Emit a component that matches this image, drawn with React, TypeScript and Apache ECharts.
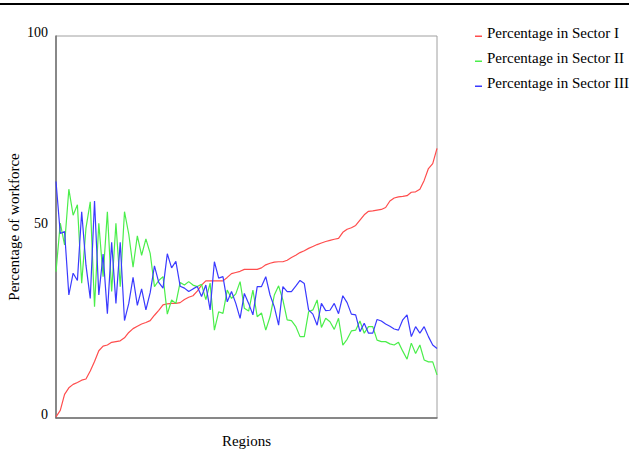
import React, { useEffect, useRef } from "react";
import * as echarts from "echarts";

const regions: string[] = Array.from({ length: 90 }, (_, i) => `Region ${i + 1}`);

const sectorI = [
  0.3, 2.0, 6.2, 7.9, 8.8, 9.3, 9.9, 10.2, 12.3, 14.8,
  17.6, 18.8, 19.1, 19.8, 20.0, 20.2, 21.0, 22.4, 23.4, 24.0,
  24.6, 25.0, 25.5, 26.9, 28.2, 29.6, 29.9, 30.0, 30.0, 30.2,
  31.0, 31.6, 32.0, 33.2, 34.8, 35.9, 35.9, 35.9, 35.9, 35.9,
  36.8, 37.8, 38.1, 38.4, 38.9, 38.9, 38.9, 38.9, 39.3, 40.1,
  40.5, 40.8, 40.9, 40.9, 41.3, 42.0, 42.6, 43.3, 43.8, 44.4,
  44.9, 45.4, 45.8, 46.2, 46.5, 46.8, 47.0, 48.6, 49.4, 49.8,
  50.4, 51.8, 53.2, 54.1, 54.2, 54.4, 54.6, 55.1, 56.8, 57.6,
  57.9, 58.0, 58.2, 59.1, 59.2, 59.9, 62.2, 65.3, 66.6, 70.6,
];

const sectorII = [
  38.3, 51.0, 45.3, 59.9, 53.1, 55.8, 35.3, 49.7, 56.6, 29.1,
  51.0, 37.0, 54.0, 33.1, 51.0, 34.4, 54.0, 48.1, 39.5, 47.7,
  42.6, 46.9, 43.1, 34.4, 36.0, 37.0, 27.2, 30.9, 30.0, 35.5,
  34.8, 35.7, 34.8, 34.4, 35.0, 31.0, 35.3, 23.0, 27.8, 27.4,
  33.5, 31.3, 32.5, 35.7, 28.7, 28.0, 33.5, 26.5, 27.5, 23.0,
  26.5, 32.2, 34.6, 30.9, 25.7, 25.5, 24.0, 21.3, 21.3, 27.8,
  28.3, 30.9, 23.7, 26.1, 25.2, 23.2, 26.1, 19.1, 20.6, 22.8,
  23.0, 25.4, 22.2, 23.9, 23.9, 20.4, 20.0, 20.0, 19.4, 19.1,
  19.8, 17.5, 15.4, 19.6, 16.9, 19.1, 15.2, 14.7, 14.7, 11.3,
];

const sectorIII = [
  61.9, 48.3, 48.8, 32.2, 37.9, 36.0, 54.0, 40.0, 31.3, 56.8,
  32.2, 42.9, 27.3, 46.0, 30.0, 46.0, 25.5, 30.0, 36.8, 29.5,
  33.8, 28.3, 32.8, 39.8, 35.5, 34.0, 43.0, 39.3, 41.0, 34.5,
  34.0, 33.1, 33.8, 34.4, 31.8, 34.8, 28.3, 40.9, 36.6, 37.0,
  30.4, 33.1, 30.0, 26.1, 32.6, 30.0, 27.0, 34.4, 34.4, 37.0,
  32.2, 29.1, 24.3, 34.4, 33.1, 33.1, 34.5, 36.0, 35.2, 28.3,
  27.2, 24.3, 30.0, 28.1, 28.2, 30.0, 27.3, 32.0, 30.2, 27.2,
  27.0, 22.6, 24.8, 22.2, 22.2, 25.8, 25.4, 24.6, 24.0, 23.3,
  23.0, 25.7, 27.0, 21.3, 23.9, 22.2, 23.9, 21.3, 19.1, 18.2,
];

const seriesNames = ["Percentage in Sector I", "Percentage in Sector II", "Percentage in Sector III"];
const seriesColors = ["#ff4d4d", "#4bee4b", "#3a3aff"];
const yTicks = [0, 50, 100];

const FONT = "'Liberation Serif', 'Times New Roman', serif";

export default function App() {
  const ref = useRef<HTMLDivElement>(null);
  useEffect(() => {
    const chart = echarts.init(ref.current!, null, { renderer: "svg" });
    const data = [sectorI, sectorII, sectorIII];
    chart.setOption({
      animation: false,
      backgroundColor: "#ffffff",
      textStyle: { fontFamily: FONT, color: "#000" },
      grid: {
        left: 56,
        right: 192,
        top: 36,
        bottom: 32,
        outerBoundsMode: "none",
        containLabel: false,
        show: true,
        borderColor: "#a0a0a0",
        borderWidth: 1,
        backgroundColor: "transparent",
      },
      graphic: [
        {
          type: "line",
          shape: { x1: 0, y1: 4, x2: 629, y2: 4 },
          style: { stroke: "#000", lineWidth: 2 },
        },
      ],
      legend: {
        orient: "vertical",
        left: 475,
        top: 25,
        padding: 0,
        itemWidth: 7,
        itemHeight: 15,
        itemGap: 10,
        icon: "path://M0,0L0.01,0L0.01,0.01Z M0,10.5L7,10.5L7,12L0,12Z M0,15L0.01,15L0.01,14.99Z",
        textStyle: { fontFamily: FONT, fontSize: 15, color: "#000" },
        data: seriesNames,
      },
      xAxis: {
        type: "category",
        data: regions,
        boundaryGap: false,
        name: "Regions",
        nameLocation: "middle",
        nameGap: 15,
        nameMoveOverlap: false,
        nameTextStyle: { fontFamily: FONT, fontSize: 15, color: "#000" },
        axisLine: { lineStyle: { color: "#707070", width: 1.5 } },
        axisTick: { show: false },
        axisLabel: { show: false },
        splitLine: { show: false },
      },
      yAxis: {
        type: "value",
        min: yTicks[0],
        max: yTicks[yTicks.length - 1],
        interval: yTicks[1] - yTicks[0],
        name: "Percentage of workforce",
        nameLocation: "middle",
        nameGap: 35,
        nameMoveOverlap: false,
        nameTextStyle: { fontFamily: FONT, fontSize: 15, color: "#000" },
        axisLine: { show: true, lineStyle: { color: "#707070", width: 1.5 } },
        axisTick: { show: false },
        axisLabel: {
          fontFamily: FONT,
          fontSize: 14,
          color: "#000",
          margin: 8,
          verticalAlign: "bottom",
          lineHeight: 8,
        },
        splitLine: { show: false },
      },
      series: data.map((d, i) => ({
        name: seriesNames[i],
        type: "line",
        data: d,
        color: seriesColors[i],
        symbol: "none",
        showSymbol: false,
        lineStyle: { color: seriesColors[i], width: 1.2 },
        itemStyle: { color: seriesColors[i] },
      })),
    });
    return () => chart.dispose();
  }, []);
  return (
    <div
      ref={ref}
      style={{ position: "fixed", left: 0, top: 0, width: 629, height: 450 }}
    />
  );
}
